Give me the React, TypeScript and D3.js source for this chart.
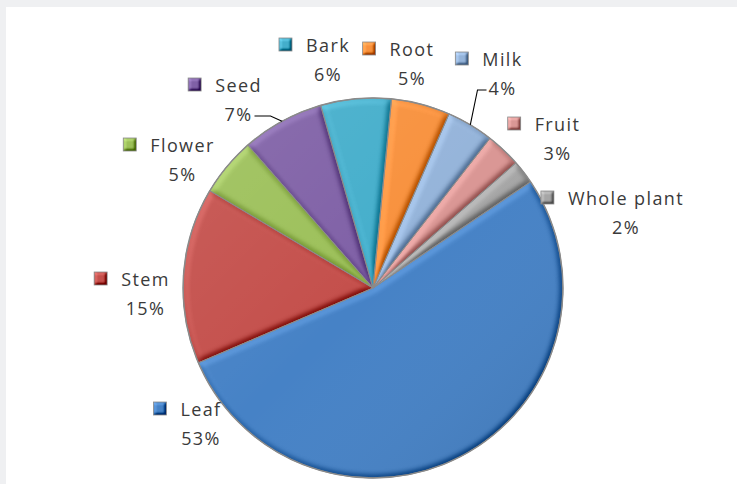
import React, { useEffect, useRef } from 'react';
import * as d3 from 'd3';

// ---- data ----
const categories = ['Leaf', 'Stem', 'Flower', 'Seed', 'Bark', 'Root', 'Milk', 'Fruit', 'Whole plant'];
const values = [53, 15, 5, 7, 6, 5, 4, 3, 2];
const percentLabels = ['53%', '15%', '5%', '7%', '6%', '5%', '4%', '3%', '2%'];

// ---- styles / layout ----
const sliceColors = ['#4682c6', '#c44f4b', '#9cc059', '#7f60a6', '#44aecb', '#f8913d', '#95b4da', '#da9795', '#a6a6a6'];
const W = 737;
const H = 484;
const CX = 373;
const CY = 288;
const R = 190;
const START_DEG = 56;
// name-line centre of each label, relative to the pie centre
const labelOffsets: [number, number][] = [
  [-172, 122],
  [-227.5, -8],
  [-190.5, -142],
  [-134.5, -202],
  [-45, -242],
  [39, -238],
  [129.5, -228],
  [184.5, -163],
  [253, -89],
];
// leader line side ('right' = from right of percent text, 'left' = from left)
const leaderSides: Record<string, 'left' | 'right'> = { Seed: 'right', Milk: 'left' };

const FONT = "'Open Sans', 'Noto Sans', sans-serif";
const TEXT_COLOR = '#3a3a3a';

export default function App() {
  const ref = useRef<SVGSVGElement>(null);

  useEffect(() => {
    const svg = d3.select(ref.current);
    svg.selectAll('*').remove();

    const defs = svg.append('defs');
    const makeBevel = (id: string, std: number, scale: number, k3: number, elev: number) => {
      const f = defs
        .append('filter')
        .attr('id', id)
        .attr('filterUnits', 'userSpaceOnUse')
        .attr('x', -1000)
        .attr('y', -1000)
        .attr('width', 3000)
        .attr('height', 3000)
        .attr('color-interpolation-filters', 'sRGB');
      f.append('feGaussianBlur').attr('in', 'SourceAlpha').attr('stdDeviation', std).attr('result', 'blur');
      const dl = f
        .append('feDiffuseLighting')
        .attr('in', 'blur')
        .attr('surfaceScale', scale)
        .attr('diffuseConstant', 1)
        .attr('lighting-color', '#ffffff')
        .attr('result', 'light');
      dl.append('feDistantLight').attr('azimuth', 225).attr('elevation', elev);
      const flat = Math.sin((elev * Math.PI) / 180);
      f.append('feComposite')
        .attr('in', 'SourceGraphic')
        .attr('in2', 'light')
        .attr('operator', 'arithmetic')
        .attr('k1', 0)
        .attr('k2', 1)
        .attr('k3', k3)
        .attr('k4', -k3 * flat)
        .attr('result', 'lit');
      f.append('feComposite').attr('in', 'lit').attr('in2', 'SourceAlpha').attr('operator', 'in');
    };
    makeBevel('bevel', 3, 4, 0.42, 55);
    makeBevel('bevelSmall', 1.5, 3, 0.5, 45);

    const shade = defs
      .append('linearGradient')
      .attr('id', 'shade')
      .attr('x1', '0%')
      .attr('y1', '0%')
      .attr('x2', '100%')
      .attr('y2', '100%');
    shade.append('stop').attr('offset', '0%').attr('stop-color', '#ffffff').attr('stop-opacity', 0.1);
    shade.append('stop').attr('offset', '50%').attr('stop-color', '#ffffff').attr('stop-opacity', 0);
    shade.append('stop').attr('offset', '100%').attr('stop-color', '#000000').attr('stop-opacity', 0.1);

    // background
    svg.append('rect').attr('width', W).attr('height', H).attr('fill', '#eff0f2');
    svg.append('rect').attr('x', 6).attr('y', 7).attr('width', W - 6).attr('height', H - 7).attr('fill', '#ffffff');

    const a0 = (START_DEG * Math.PI) / 180;
    const pie = d3
      .pie<number>()
      .sort(null)
      .value((d) => d)
      .startAngle(a0)
      .endAngle(a0 + 2 * Math.PI);
    const arcs = pie(values);
    const arc = d3.arc<d3.PieArcDatum<number>>().innerRadius(0).outerRadius(R);

    const g = svg.append('g').attr('transform', `translate(${CX},${CY})`);
    g.selectAll('path.slice')
      .data(arcs)
      .join('path')
      .attr('class', 'slice')
      .attr('d', arc)
      .attr('fill', (_, i) => sliceColors[i])
      .attr('filter', 'url(#bevel)');

    g.append('circle').attr('r', R).attr('fill', 'url(#shade)');

    g.selectAll('path.outline')
      .data(arcs)
      .join('path')
      .attr('class', 'outline')
      .attr('d', arc)
      .attr('fill', 'none')
      .attr('stroke', '#8a8a8a')
      .attr('stroke-width', 1)
      .attr('stroke-linejoin', 'round');
    g.append('circle').attr('r', R).attr('fill', 'none').attr('stroke', '#8a8a8a').attr('stroke-width', 1.4);

    // labels
    const lg = svg.append('g');
    categories.forEach((name, i) => {
      const [ox, oy] = labelOffsets[i];
      const cx = CX + ox;
      const cy = CY + oy;
      const nameText = lg
        .append('text')
        .attr('x', cx)
        .attr('y', cy + 6)
        .attr('text-anchor', 'middle')
        .attr('font-family', FONT)
        .attr('font-size', 18)
        .attr('letter-spacing', 1.4)
        .attr('fill', TEXT_COLOR)
        .text(name);
      const nw = (nameText.node() as SVGTextElement).getComputedTextLength();
      const left = cx - nw / 2;
      lg.append('rect')
        .attr('x', left - 27)
        .attr('y', cy - 8)
        .attr('width', 13)
        .attr('height', 13)
        .attr('fill', sliceColors[i])
        .attr('filter', 'url(#bevelSmall)');
      lg.append('rect')
        .attr('x', left - 27)
        .attr('y', cy - 8)
        .attr('width', 13)
        .attr('height', 13)
        .attr('fill', 'none')
        .attr('stroke', '#8a8a8a')
        .attr('stroke-width', 0.8);

      const pctText = lg
        .append('text')
        .attr('x', cx)
        .attr('y', cy + 35)
        .attr('text-anchor', 'middle')
        .attr('font-family', FONT)
        .attr('font-size', 18)
        .attr('letter-spacing', 1.4)
        .attr('fill', TEXT_COLOR)
        .text(percentLabels[i]);

      const side = leaderSides[name];
      if (side) {
        const pw = (pctText.node() as SVGTextElement).getComputedTextLength();
        const mid = (arcs[i].startAngle + arcs[i].endAngle) / 2;
        const ex = CX + R * Math.sin(mid);
        const ey = CY - R * Math.cos(mid);
        const py = cy + 30;
        const sx = side === 'right' ? cx + pw / 2 + 2 : cx - pw / 2 - 2;
        const kx = side === 'right' ? sx + 16 : sx - 9;
        lg.append('path')
          .attr('d', d3.line()([[sx, py], [kx, py], [ex, ey]]))
          .attr('fill', 'none')
          .attr('stroke', '#000000')
          .attr('stroke-width', 1.1);
      }
    });
  }, []);

  return (
    <svg
      ref={ref}
      width={W}
      height={H}
      style={{ position: 'fixed', left: 0, top: 0, display: 'block' }}
    />
  );
}
